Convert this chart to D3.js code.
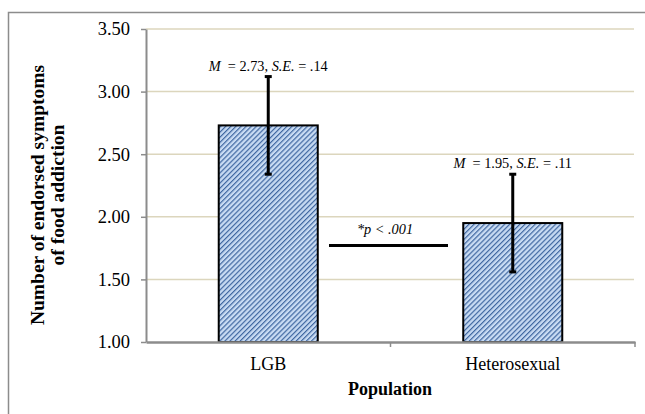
<!DOCTYPE html>
<html>
<head>
<meta charset="utf-8">
<script src="https://cdn.jsdelivr.net/npm/d3@7"></script>
<style>
  body { margin: 0; background: #fff; }
  svg { font-family: "Liberation Serif", "Times New Roman", serif; }
</style>
</head>
<body>
<div id="chart"></div>
<script>
// data
const populations = ["LGB", "Heterosexual"];
const means = [2.73, 1.95];
const errLow = [2.34, 1.56];
const errHigh = [3.12, 2.34];
const meanLabels = [["2.73", ".14"], ["1.95", ".11"]];
const yTicks = [1.0, 1.5, 2.0, 2.5, 3.0, 3.5];

const width = 645, height = 414;
const plotLeft = 146, plotRight = 635, plotTop = 29, plotBottom = 342;

const svg = d3.select("#chart").append("svg")
  .attr("width", width)
  .attr("height", height);

// hatch pattern for the bars
const defs = svg.append("defs");
const pat = defs.append("pattern")
  .attr("id", "hatch")
  .attr("patternUnits", "userSpaceOnUse")
  .attr("width", 3.6)
  .attr("height", 3.6)
  .attr("patternTransform", "rotate(45)");
pat.append("rect").attr("width", 3.6).attr("height", 3.6).attr("fill", "#c8dbf3");
pat.append("rect").attr("x", 0).attr("width", 1.2).attr("height", 3.6).attr("fill", "#3e66a0");

// outer frame (only top and left fall inside the picture)
svg.append("path")
  .attr("d", "M8.5,420 L8.5,12.5 L650,12.5")
  .attr("fill", "none")
  .attr("stroke", "#8c8c8c")
  .attr("stroke-width", 1.5);

const x = d3.scaleBand()
  .domain(populations)
  .range([plotLeft, plotRight])
  .paddingInner(0)
  .paddingOuter(0);

const y = d3.scaleLinear()
  .domain([1, 3.5])
  .range([plotBottom, plotTop]);

// gridlines
svg.append("g")
  .selectAll("line")
  .data(yTicks.filter(d => d > 1))
  .enter()
  .append("line")
    .attr("x1", plotLeft)
    .attr("x2", plotRight - 1)
    .attr("y1", d => y(d))
    .attr("y2", d => y(d))
    .attr("stroke", "#dcd6bd")
    .attr("stroke-width", 1.5);

// y axis
const yAxis = d3.axisLeft(y)
  .tickValues(yTicks)
  .tickFormat(d3.format(".2f"))
  .tickSizeInner(5)
  .tickSizeOuter(0)
  .tickPadding(11);

const gy = svg.append("g")
  .attr("transform", `translate(${plotLeft},0)`)
  .call(yAxis);
gy.select(".domain").attr("stroke", "#8c8c8c").attr("stroke-width", 2);
gy.selectAll(".tick line").attr("stroke", "#8c8c8c").attr("stroke-width", 1.5);
gy.selectAll(".tick text")
  .attr("fill", "#000")
  .style("font-family", "Liberation Serif, serif")
  .style("font-size", "18.5px");

// bars
const barW = x.bandwidth() * 0.405;
svg.append("g")
  .selectAll("rect")
  .data(populations)
  .enter()
  .append("rect")
    .attr("x", d => x(d) + (x.bandwidth() - barW) / 2)
    .attr("y", (d, i) => y(means[i]))
    .attr("width", barW)
    .attr("height", (d, i) => y(1) - y(means[i]))
    .attr("fill", "url(#hatch)")
    .attr("stroke", "#000")
    .attr("stroke-width", 2);

// x axis (drawn over bar bottoms)
const xAxis = d3.axisBottom(x).tickSize(0).tickPadding(15);
const gx = svg.append("g")
  .attr("transform", `translate(0,${plotBottom})`)
  .call(xAxis);
gx.select(".domain").attr("stroke", "#8c8c8c").attr("stroke-width", 2.5);
gx.selectAll(".tick text")
  .attr("fill", "#000")
  .style("font-family", "Liberation Serif, serif")
  .style("font-size", "18px");
// tick marks between/after categories
gx.selectAll("line.sep")
  .data([x(populations[1]), plotRight])
  .enter()
  .append("line")
    .attr("class", "sep")
    .attr("x1", d => d)
    .attr("x2", d => d)
    .attr("y1", 0)
    .attr("y2", 5)
    .attr("stroke", "#8c8c8c")
    .attr("stroke-width", 1.5);

// error bars
const eb = svg.append("g")
  .selectAll("g")
  .data(populations)
  .enter()
  .append("g")
    .attr("transform", d => `translate(${x(d) + x.bandwidth() / 2},0)`);
eb.append("line")
  .attr("y1", (d, i) => y(errLow[i]))
  .attr("y2", (d, i) => y(errHigh[i]))
  .attr("stroke", "#000")
  .attr("stroke-width", 3);
eb.append("line")
  .attr("x1", -3.5).attr("x2", 3.5)
  .attr("y1", (d, i) => y(errHigh[i]))
  .attr("y2", (d, i) => y(errHigh[i]))
  .attr("stroke", "#000").attr("stroke-width", 3);
eb.append("line")
  .attr("x1", -3.5).attr("x2", 3.5)
  .attr("y1", (d, i) => y(errLow[i]))
  .attr("y2", (d, i) => y(errLow[i]))
  .attr("stroke", "#000").attr("stroke-width", 3);

// mean labels
const lab = eb.append("text")
  .attr("y", (d, i) => y(errHigh[i]) - 6)
  .attr("text-anchor", "middle")
  .style("font-size", "14.3px")
  .attr("fill", "#000");
lab.append("tspan").style("font-style", "italic").text("M");
lab.append("tspan").text((d, i) => "\u00a0 = " + meanLabels[i][0] + ", ");
lab.append("tspan").style("font-style", "italic").text("S.E.");
lab.append("tspan").text((d, i) => " = " + meanLabels[i][1]);

// significance marker
const sigY = 245.5;
svg.append("line")
  .attr("x1", 329).attr("x2", 448)
  .attr("y1", sigY).attr("y2", sigY)
  .attr("stroke", "#000")
  .attr("stroke-width", 3);
svg.append("text")
  .attr("x", 385)
  .attr("y", sigY - 11.5)
  .attr("text-anchor", "middle")
  .style("font-size", "14.3px")
  .style("font-style", "italic")
  .text("*p < .001");

// axis titles
svg.append("text")
  .attr("transform", "translate(44,195) rotate(-90)")
  .attr("text-anchor", "middle")
  .style("font-size", "19.5px")
  .style("font-weight", "bold")
  .call(t => t.append("tspan").attr("x", 0).attr("dy", 0).text("Number of endorsed symptoms"))
  .call(t => t.append("tspan").attr("x", 0).attr("dy", 19.5).text("of food addiction"));

svg.append("text")
  .attr("x", 390)
  .attr("y", 395)
  .attr("text-anchor", "middle")
  .style("font-size", "18px")
  .style("font-weight", "bold")
  .text("Population");
</script>
</body>
</html>
